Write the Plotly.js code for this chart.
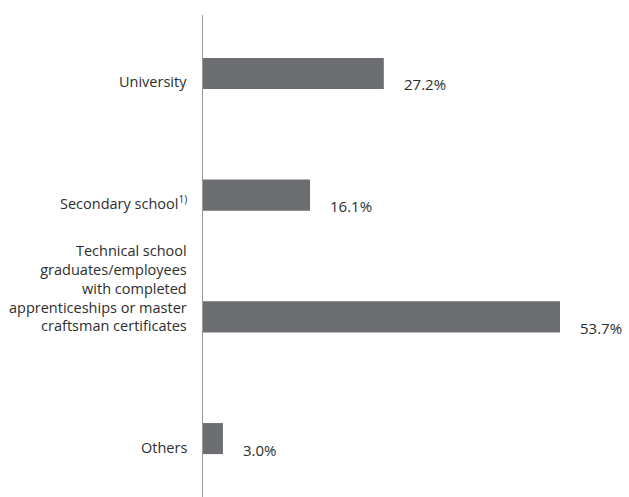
<!DOCTYPE html>
<html>
<head>
<meta charset="utf-8">
<script src="https://cdn.plot.ly/plotly-3.0.1.min.js"></script>
<style>html,body{margin:0;padding:0;background:#fff;}#chart{width:629px;height:497px;}</style>
</head>
<body>
<div id="chart"></div>
<script>
const categories = ["University", "Secondary school", "Technical school", "Others"];
const categoryLabels = [
  "University",
  "Secondary school<sup>1)</sup>",
  "Technical school<br>graduates/employees<br>with completed<br>apprenticeships or master<br>craftsman certificates",
  "Others"
];
const values = [27.2, 16.1, 53.7, 3.0];
const valueLabels = ["27.2%", "16.1%", "53.7%", "3.0%"];

const barColor = "#6d6e71";
const textColor = "#2e2e2e";
const fontFamily = "'Open Sans', 'Noto Sans', sans-serif";

const trace = {
  type: "bar",
  orientation: "h",
  x: values,
  y: categories,
  width: 0.255,
  marker: { color: barColor, line: { width: 0 } },
  hoverinfo: "none"
};

const annotations = [];
categories.forEach((c, i) => {
  annotations.push({
    x: values[i], y: c, xref: "x", yref: "y",
    text: valueLabels[i], showarrow: false,
    xanchor: "left", yanchor: "middle", xshift: 18, yshift: -11,
    font: { family: fontFamily, size: 15, color: textColor }
  });
  annotations.push({
    x: 0, y: c, xref: "paper", yref: "y",
    text: categoryLabels[i], showarrow: false, align: "right",
    xanchor: "right", yanchor: "bottom", xshift: -14, yshift: -20,
    font: { family: fontFamily, size: 14.5, color: textColor }
  });
});

const layout = {
  width: 629, height: 497,
  margin: { l: 203, r: 0, t: 15, b: 0 },
  paper_bgcolor: "#ffffff", plot_bgcolor: "#ffffff",
  showlegend: false,
  xaxis: { range: [0, 64.08], visible: false, fixedrange: true },
  yaxis: {
    type: "category", range: [3.48, -0.48],
    showticklabels: false, ticks: "", showgrid: false, zeroline: false,
    showline: true, linecolor: "#9a9a9a", linewidth: 1, layer: "below traces",
    fixedrange: true
  },
  annotations: annotations
};

Plotly.newPlot("chart", [trace], layout, { displayModeBar: false, staticPlot: true });
</script>
</body>
</html>
